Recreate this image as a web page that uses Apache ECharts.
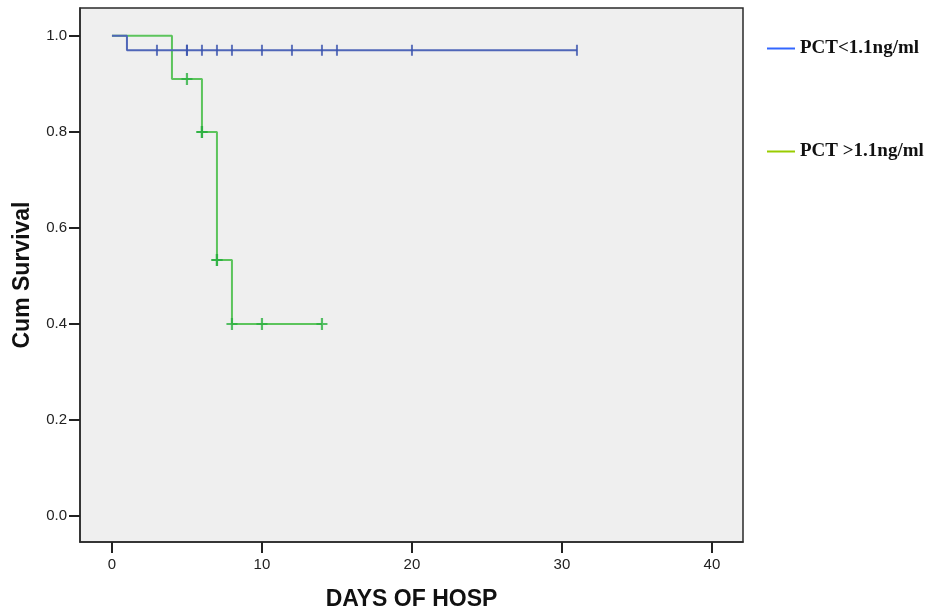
<!DOCTYPE html>
<html>
<head>
<meta charset="utf-8">
<script src="https://cdn.jsdelivr.net/npm/echarts@6/dist/echarts.min.js"></script>
<style>
  html, body { margin: 0; padding: 0; background: #fff; }
  #chart { width: 929px; height: 614px; }
</style>
</head>
<body>
<div id="chart"></div>
<script>
// Kaplan-Meier steps, [day, cumulative survival]
var lowSteps = [[0, 1.0], [1, 0.97], [31, 0.97]];
var lowCensored = [[3, 0.97], [5, 0.97], [5, 0.97], [6, 0.97], [7, 0.97], [8, 0.97],
                   [10, 0.97], [12, 0.97], [14, 0.97], [15, 0.97], [20, 0.97], [31, 0.97]];
var highSteps = [[0, 1.0], [4, 0.91], [6, 0.80], [7, 0.533], [8, 0.40], [14, 0.40]];
var highCensored = [[5, 0.91], [6, 0.80], [6, 0.80], [7, 0.533], [7, 0.533], [8, 0.40], [10, 0.40], [14, 0.40]];
var xTicks = [0, 10, 20, 30, 40];
var yTicks = [0, 0.2, 0.4, 0.6, 0.8, 1.0];
var seriesNames = ['PCT<1.1ng/ml', 'PCT >1.1ng/ml'];

var chart = echarts.init(document.getElementById('chart'));
var cross = 'path://M-1,-6H1V6H-1Z M-5,-1H5V1H-5Z';

var option = {
    animation: false,
    grid: {
        left: 80, right: 186, top: 8, bottom: 72,
        outerBoundsMode: 'none',
        show: true,
        backgroundColor: '#efefef',
        borderColor: '#2a2a2a',
        borderWidth: 1.5
    },
    legend: {
        orient: 'vertical',
        left: 762,
        top: 34,
        itemGap: 84,
        itemWidth: 28,
        itemHeight: 2,
        icon: 'rect',
        textStyle: {
            fontFamily: 'Liberation Serif',
            fontWeight: 'bold',
            fontSize: 19,
            lineHeight: 19,
            color: '#111'
        },
        data: [
            {name: seriesNames[0], itemStyle: {color: '#3366ff'}},
            {name: seriesNames[1], itemStyle: {color: '#99cc00'}}
        ]
    },
    xAxis: {
        type: 'value',
        min: -2.13,
        max: 42.07,
        name: 'DAYS OF HOSP',
        nameLocation: 'middle',
        nameGap: 46,
        nameTextStyle: {fontFamily: 'Liberation Sans', fontWeight: 'bold', fontSize: 23, color: '#111'},
        splitLine: {show: false},
        axisLine: {show: true, onZero: false, lineStyle: {color: '#2a2a2a', width: 1.5}},
        axisTick: {show: true, length: 11, customValues: xTicks, lineStyle: {color: '#222', width: 2}},
        axisLabel: {customValues: xTicks, margin: 15, fontFamily: 'Liberation Sans', fontSize: 15, color: '#222'}
    },
    yAxis: {
        type: 'value',
        min: -0.054,
        max: 1.058,
        name: 'Cum Survival',
        nameLocation: 'middle',
        nameGap: 46,
        nameRotate: 90,
        nameTextStyle: {fontFamily: 'Liberation Sans', fontWeight: 'bold', fontSize: 23, color: '#111'},
        splitLine: {show: false},
        axisLine: {show: true, onZero: false, lineStyle: {color: '#2a2a2a', width: 1.5}},
        axisTick: {show: true, length: 11, customValues: yTicks, lineStyle: {color: '#222', width: 2}},
        axisLabel: {
            customValues: yTicks, margin: 13,
            fontFamily: 'Liberation Sans', fontSize: 15, color: '#222',
            formatter: function (v) { return v.toFixed(1); }
        }
    },
    series: [
        {
            name: seriesNames[0],
            type: 'line',
            step: 'end',
            data: lowSteps,
            showSymbol: false,
            lineStyle: {color: '#4f66b8', width: 2},
            itemStyle: {color: '#3366ff'},
            z: 3
        },
        {
            name: seriesNames[0] + ' censored',
            type: 'scatter',
            data: lowCensored,
            symbol: 'rect',
            symbolSize: [2, 11],
            itemStyle: {color: '#3a52ae'},
            z: 4
        },
        {
            name: seriesNames[1],
            type: 'line',
            step: 'end',
            data: highSteps,
            showSymbol: false,
            lineStyle: {color: '#5cc45c', width: 2},
            itemStyle: {color: '#99cc00'},
            z: 2
        },
        {
            name: seriesNames[1] + ' censored',
            type: 'scatter',
            data: highCensored,
            symbol: cross,
            symbolSize: [11, 12],
            itemStyle: {color: '#2cb040'},
            z: 4
        }
    ]
};
chart.setOption(option);
</script>
</body>
</html>
